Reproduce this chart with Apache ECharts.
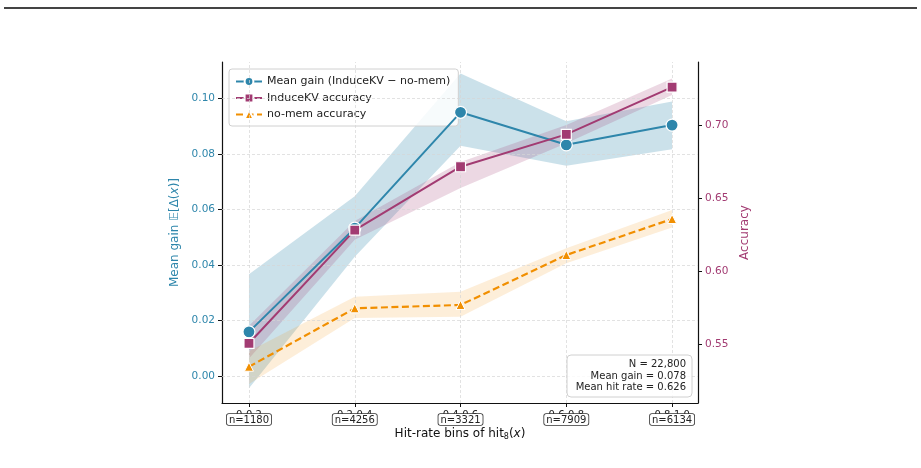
<!DOCTYPE html>
<html><head><meta charset="utf-8">
<script src="https://cdn.jsdelivr.net/npm/echarts@6/dist/echarts.min.js"></script>
<style>html,body{margin:0;padding:0;background:#fff}#c{width:921px;height:468px}</style>
</head><body><div id="c"></div>
<script>
const bins = ['0-0.2','0.2-0.4','0.4-0.6','0.6-0.8','0.8-1.0'];
const counts = ['n=1180','n=4256','n=3321','n=7909','n=6134'];
const gainMean = [0.016, 0.0533, 0.095, 0.0833, 0.0904];
const gainLo   = [-0.0043, 0.043, 0.083, 0.0758, 0.0817];
const gainHi   = [0.0367, 0.0648, 0.109, 0.0918, 0.0989];
const kvAcc = [0.5505, 0.6282, 0.6717, 0.6939, 0.7264];
const kvLo  = [0.540, 0.6215, 0.6571, 0.6879, 0.7209];
const kvHi  = [0.5625, 0.6345, 0.6750, 0.7003, 0.7323];
const nmAcc = [0.5344, 0.5745, 0.5768, 0.6111, 0.6358];
const nmLo  = [0.5225, 0.5678, 0.5687, 0.6054, 0.6300];
const nmHi  = [0.5450, 0.5825, 0.5859, 0.6157, 0.6420];
const leftTicks = [0.00, 0.02, 0.04, 0.06, 0.08, 0.10];
const rightTicks = [0.55, 0.60, 0.65, 0.70];
const statsLines = ['N = 22,800', 'Mean gain = 0.078', 'Mean hit rate = 0.626'];

const BLUE = '#2E86AB', PURPLE = '#A23B72', ORANGE = '#F18F01';
const xs = bins.map((_, i) => i);
const pts = arr => arr.map((v, i) => [i, v]);
const FONT = 'DejaVu Sans';

function band(name, lo, hi, yIdx, color, op) {
  return {
    type:'custom', name:name, yAxisIndex:yIdx, silent:true, z:1, clip:true,
    data: lo.map((v, i) => [i, v, hi[i]]),
    encode:{x:0, y:[1,2]},
    renderItem: function(params, api) {
      if (params.dataIndex !== 0) return null;
      const up = hi.map((v, i) => api.coord([i, v]));
      const dn = lo.map((v, i) => api.coord([i, v])).reverse();
      const cs = params.coordSys;
      return {type:'polygon', shape:{points: up.concat(dn)},
        clipPath:{type:'rect', shape:{x:cs.x, y:cs.y, width:cs.width, height:cs.height}},
        style:{fill:color, opacity:op}};
    }
  };
}

const chart = echarts.init(document.getElementById('c'), null, {renderer:'canvas'});
const option = {
  animation:false,
  textStyle:{fontFamily:FONT},
  grid:{left:222, right:223, top:62, bottom:65, containLabel:false},
  legend:{
    data:['Mean gain (InduceKV − no-mem)','InduceKV accuracy','no-mem accuracy'],
    orient:'vertical', left:229, top:69, itemWidth:26, itemHeight:11, itemGap:5.5,
    backgroundColor:'rgba(255,255,255,0.85)', borderColor:'#d0d0d0', borderWidth:1, borderRadius:3,
    padding:[7,8,6,6],
    textStyle:{fontSize:11, color:'#222', fontFamily:FONT}
  },
  xAxis:[
    {type:'value', min:-0.255, max:4.245,
     axisLine:{show:true, onZero:false, lineStyle:{color:'#111', width:1.2}},
     axisTick:{show:true, customValues:xs, length:4, lineStyle:{color:'#111'}},
     axisLabel:{customValues:xs, formatter:v => bins[Math.round(v)] || '', fontSize:10, color:'#222', margin:7},
     splitLine:{show:false},
     name:'Hit-rate bins of hit{s|8}({i|x})', nameLocation:'middle', nameGap:24,
     nameTextStyle:{fontSize:12, color:'#111', rich:{s:{fontSize:8, verticalAlign:'bottom', padding:[6,0,0,0], color:'#111'}, i:{fontStyle:'italic', fontSize:12, color:'#111'}}}
    },
    {type:'value', min:-0.255, max:4.245, position:'bottom', offset:0,
     axisLine:{show:false, onZero:false}, axisTick:{show:false},
     axisLabel:{customValues:xs, formatter:v => counts[Math.round(v)] || '', fontSize:10, color:'#222', margin:11,
       backgroundColor:'#fff', borderColor:'#333', borderWidth:0.8, borderRadius:2, padding:[1,2,0,2]},
     splitLine:{show:false}}
  ],
  yAxis:[
    {type:'value', min:-0.0096, max:0.1131, position:'left',
     axisLine:{show:true, onZero:false, lineStyle:{color:'#111', width:1.2}},
     axisTick:{show:true, customValues:leftTicks, length:4, lineStyle:{color:'#111'}},
     axisLabel:{customValues:leftTicks, formatter:v => v.toFixed(2), fontSize:10.5, color:BLUE, margin:7},
     splitLine:{show:false},
     name:'Mean gain {i|𝔼}[Δ({x|x})]', nameLocation:'middle', nameGap:35, nameRotate:90,
     nameTextStyle:{fontSize:12, color:BLUE, rich:{i:{fontSize:12,color:BLUE}, x:{fontStyle:'italic', fontSize:12, color:BLUE}}}
    },
    {type:'value', min:0.5095, max:0.7436, position:'right',
     axisLine:{show:true, onZero:false, lineStyle:{color:'#111', width:1.2}},
     axisTick:{show:true, customValues:rightTicks, length:4, lineStyle:{color:'#111'}},
     axisLabel:{customValues:rightTicks, formatter:v => v.toFixed(2), fontSize:10.5, color:PURPLE, margin:7},
     splitLine:{show:false},
     name:'Accuracy', nameLocation:'middle', nameGap:36, nameRotate:90,
     nameTextStyle:{fontSize:12, color:PURPLE}
    }
  ],
  series:[
    {type:'line', name:'grid', data:[], yAxisIndex:0, silent:true,
     markLine:{silent:true, symbol:'none', label:{show:false}, animation:false,
       lineStyle:{color:'#d6d6d6', type:[3,2], width:0.7},
       data: leftTicks.map(v => ({yAxis:v})).concat(xs.map(v => ({xAxis:v})))}},
    band('gainBand', gainLo, gainHi, 0, BLUE, 0.25),
    band('kvBand', kvLo, kvHi, 1, PURPLE, 0.2),
    band('nmBand', nmLo, nmHi, 1, ORANGE, 0.15),
    {type:'line', name:'Mean gain (InduceKV − no-mem)', yAxisIndex:0, data:pts(gainMean), z:5,
     symbol:'circle', symbolSize:12, lineStyle:{color:BLUE, width:2},
     itemStyle:{color:BLUE, borderColor:'#fff', borderWidth:1.2}},
    {type:'line', name:'InduceKV accuracy', yAxisIndex:1, data:pts(kvAcc), z:6,
     symbol:'rect', symbolSize:10, lineStyle:{color:PURPLE, width:2},
     itemStyle:{color:PURPLE, borderColor:'#fff', borderWidth:1.2}},
    {type:'line', name:'no-mem accuracy', yAxisIndex:1, data:pts(nmAcc), z:6,
     symbol:'triangle', symbolSize:9, lineStyle:{color:ORANGE, width:2.2, type:[7,3.5]},
     itemStyle:{color:ORANGE, borderColor:'#fff', borderWidth:1}}
  ],
  graphic:[
    {type:'line', shape:{x1:4, y1:8, x2:917, y2:8}, style:{stroke:'#444', lineWidth:2}},
    {type:'rect', shape:{x:567, y:355, width:125, height:42, r:4},
     style:{fill:'rgba(255,255,255,0.85)', stroke:'#d0d0d0', lineWidth:1}, z:10},
    {type:'text', x:686, y:359, z:11,
     style:{text:statsLines.join('\n'), align:'right', verticalAlign:'top', fontSize:10, lineHeight:11.5,
       fill:'#222', fontFamily:FONT}}
  ]
};
chart.setOption(option);
</script></body></html>
